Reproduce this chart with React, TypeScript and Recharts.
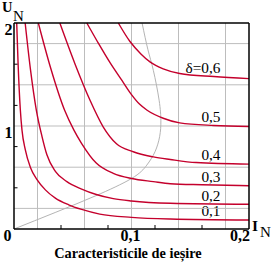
import React from 'react';
import { LineChart, Line, XAxis, YAxis, ReferenceLine, Customized } from 'recharts';

// ---- data ----
const D01_I = [0.0023, 0.0035, 0.0054, 0.0068, 0.0096, 0.0139, 0.0196, 0.0267, 0.0352, 0.0465, 0.0576, 0.073, 0.1, 0.133, 0.2];
const D01_U = [2.0, 1.6, 1.155, 0.96, 0.77, 0.6, 0.48, 0.38, 0.3, 0.235, 0.19, 0.145, 0.113, 0.097, 0.087];

const D02_I = [0.0095, 0.014, 0.019, 0.0238, 0.028, 0.0352, 0.045, 0.0576, 0.07, 0.0845, 0.1, 0.133, 0.2];
const D02_U = [2.0, 1.55, 1.155, 0.9, 0.72, 0.56, 0.46, 0.388, 0.335, 0.295, 0.272, 0.25, 0.24];

const D03_I = [0.0207, 0.031, 0.043, 0.051, 0.0576, 0.07, 0.0845, 0.1, 0.1186, 0.133, 0.16, 0.2];
const D03_U = [2.0, 1.57, 1.155, 0.96, 0.83, 0.64, 0.54, 0.49, 0.46, 0.44, 0.43, 0.42];

const D04_I = [0.039, 0.052, 0.0647, 0.076, 0.087, 0.1015, 0.1186, 0.133, 0.155, 0.2];
const D04_U = [2.0, 1.6, 1.25, 0.99, 0.83, 0.75, 0.7, 0.675, 0.645, 0.63];

const D05_I = [0.062, 0.072, 0.082, 0.092, 0.1, 0.107, 0.113, 0.127, 0.141, 0.17, 0.2];
const D05_U = [2.0, 1.8, 1.61, 1.44, 1.305, 1.21, 1.155, 1.075, 1.03, 1.005, 0.995];

const D06_I = [0.0888, 0.0987, 0.108, 0.116, 0.127, 0.141, 0.17, 0.2];
const D06_U = [2.0, 1.82, 1.7, 1.62, 1.555, 1.51, 1.48, 1.46];

const BOUND_I = [0, 0.035, 0.069, 0.1, 0.113, 0.12, 0.124, 0.125, 0.1235, 0.1186, 0.114, 0.109];
const BOUND_U = [0, 0.16, 0.32, 0.49, 0.62, 0.75, 0.9, 1.05, 1.25, 1.54, 1.74, 2.0];

const DELTA_LABELS = ['δ=0,6', '0,5', '0,4', '0,3', '0,2', '0,1'];

const I_TICK_MARKS = [0.04, 0.08, 0.12, 0.16];
const U_TICK_MARKS = [0.4, 0.8, 1.2, 1.6];
const I_GRID = [0.02, 0.06, 0.1, 0.14, 0.18];
const U_GRID = [0.2, 0.6, 1.0, 1.4, 1.8];
const I_LABEL_VALUES = [0, 0.1, 0.2];
const I_LABEL_TEXT = ['0', '0,1', '0,2'];
const U_LABEL_VALUES = [1, 2];
const U_LABEL_TEXT = ['1', '2'];

const TITLE = 'Caracteristicile de ieșire';

const zip = (xs: number[], ys: number[]) => xs.map((x, i) => ({ I: x, U: ys[i] }));
const SERIES = [
  zip(D01_I, D01_U),
  zip(D02_I, D02_U),
  zip(D03_I, D03_U),
  zip(D04_I, D04_U),
  zip(D05_I, D05_U),
  zip(D06_I, D06_U),
];
const BOUND = zip(BOUND_I, BOUND_U);

const RED = '#c4002c';
const FONT = 'Liberation Serif';

const near = (a: number, b: number) => Math.abs(a - b) < 1e-6;

const T = (p: any) => {
  const { size, bold, children, ...rest } = p;
  return (
    <text
      {...rest}
      fontFamily={FONT}
      fontSize={size}
      fontWeight={bold ? 'bold' : 'normal'}
      fill="#000"
      style={{ fontFamily: FONT, fontSize: size, fontWeight: bold ? 700 : 400 }}
    >
      {children}
    </text>
  );
};

const BottomTick = (props: any) => {
  const { x, y, payload } = props;
  const v = payload.value;
  const li = I_LABEL_VALUES.findIndex((t) => near(t, v));
  const isMark = I_TICK_MARKS.some((t) => near(t, v));
  const dx = li === 0 ? -6.5 : li === 2 ? -9 : -1;
  return (
    <g>
      {isMark && <line x1={x} x2={x} y1={y} y2={y - 4} stroke="#000" strokeWidth={1} />}
      {li >= 0 && (
        <T x={x + dx} y={y + 11.5} textAnchor="middle" size={16} bold>
          {I_LABEL_TEXT[li]}
        </T>
      )}
    </g>
  );
};

const TopTick = (props: any) => {
  const { x, y } = props;
  return <line x1={x} x2={x} y1={y} y2={y + 3.5} stroke="#000" strokeWidth={1} />;
};

const LeftTick = (props: any) => {
  const { x, y, payload } = props;
  const v = payload.value;
  const li = U_LABEL_VALUES.findIndex((t) => near(t, v));
  const isMark = U_TICK_MARKS.some((t) => near(t, v));
  return (
    <g>
      {isMark && <line x1={x} x2={x + 3.5} y1={y} y2={y} stroke="#000" strokeWidth={1} />}
      {li >= 0 && (
        <T x={x - 1.5} y={y + 12} textAnchor="end" size={16} bold>
          {U_LABEL_TEXT[li]}
        </T>
      )}
    </g>
  );
};

const RightTick = (props: any) => {
  const { x, y } = props;
  return <line x1={x} x2={x - 4} y1={y} y2={y} stroke="#000" strokeWidth={1} />;
};

const DELTA_BASELINES = [73, 122, 160, 181.5, 200.5, 216];

const Texts = () => (
  <g>
    <T x={2} y={11.5} size={14.5} bold>U</T>
    <T x={13} y={21} size={15}>N</T>
    <T x={252} y={231} size={15.5} bold>I</T>
    <T x={260} y={237} size={15}>N</T>
    <T x={128} y={257.5} textAnchor="middle" size={14.3} bold>{TITLE}</T>
    {DELTA_LABELS.map((t, i) => (
      <T key={t} x={220.5} y={DELTA_BASELINES[i]} textAnchor="end" size={15.3}>{t}</T>
    ))}
  </g>
);

const AXIS_LINE = { stroke: '#000', strokeWidth: 1.5 };

export default function App() {
  return (
    <div style={{ position: 'absolute', left: 0, top: 0, width: 273, height: 262, background: '#fff', fontFamily: FONT }}>
      <LineChart width={273} height={262} margin={{ top: 22, left: 13, right: 23, bottom: 32 }}>
        <XAxis
          xAxisId="b"
          orientation="bottom"
          type="number"
          dataKey="I"
          domain={[0, 0.2]}
          ticks={[0, 0.04, 0.08, 0.1, 0.12, 0.16, 0.2]}
          interval={0}
          height={1}
          tickSize={0}
          tickMargin={0}
          tickLine={false}
          axisLine={AXIS_LINE}
          tick={<BottomTick />}
        />
        <XAxis
          xAxisId="t"
          orientation="top"
          type="number"
          dataKey="I"
          domain={[0, 0.2]}
          ticks={I_TICK_MARKS}
          interval={0}
          height={1}
          tickSize={0}
          tickMargin={0}
          tickLine={false}
          axisLine={AXIS_LINE}
          tick={<TopTick />}
        />
        <YAxis
          yAxisId="l"
          orientation="left"
          type="number"
          domain={[0, 2]}
          ticks={[0.4, 0.8, 1, 1.2, 1.6, 2]}
          interval={0}
          width={1}
          tickSize={0}
          tickMargin={0}
          tickLine={false}
          axisLine={AXIS_LINE}
          tick={<LeftTick />}
        />
        <YAxis
          yAxisId="r"
          orientation="right"
          type="number"
          domain={[0, 2]}
          ticks={U_TICK_MARKS}
          interval={0}
          width={1}
          tickSize={0}
          tickMargin={0}
          tickLine={false}
          axisLine={AXIS_LINE}
          tick={<RightTick />}
        />
        {I_GRID.map((v) => (
          <ReferenceLine key={'gx' + v} xAxisId="b" yAxisId="l" x={v} stroke="#bdbdbd" strokeWidth={1} />
        ))}
        {U_GRID.map((v) => (
          <ReferenceLine key={'gy' + v} xAxisId="b" yAxisId="l" y={v} stroke="#bdbdbd" strokeWidth={1} />
        ))}
        <Line
          xAxisId="b"
          yAxisId="l"
          data={BOUND}
          dataKey="U"
          type="natural"
          stroke="#b4b4b4"
          strokeWidth={1}
          dot={false}
          activeDot={false}
          isAnimationActive={false}
        />
        {SERIES.map((s, i) => (
          <Line
            key={i}
            xAxisId="b"
            yAxisId="l"
            data={s}
            dataKey="U"
            type="monotone"
            stroke={RED}
            strokeWidth={1.4}
            dot={false}
            activeDot={false}
            isAnimationActive={false}
          />
        ))}
        <Customized component={Texts} />
      </LineChart>
    </div>
  );
}
